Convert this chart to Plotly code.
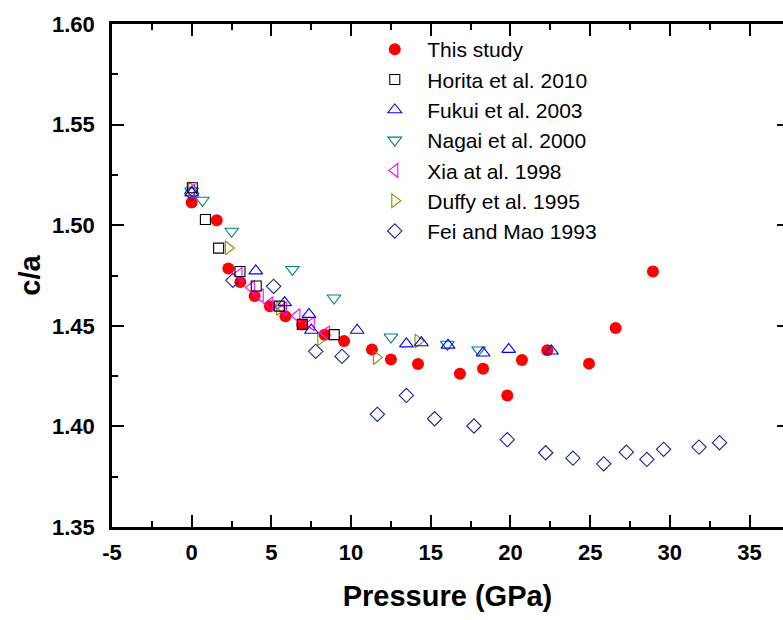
import plotly.graph_objects as go

# ---- data ----
this_x = [0, 1.57, 2.3, 3.05, 3.95, 4.91, 5.88, 6.94, 8.34, 9.56, 11.31, 12.5, 14.2, 16.83, 18.28, 19.8, 20.72, 22.31, 24.93, 26.6, 28.94]
this_y = [1.5113, 1.5025, 1.4785, 1.4718, 1.4648, 1.4597, 1.4547, 1.4507, 1.4456, 1.4424, 1.4382, 1.4333, 1.4310, 1.4262, 1.4287, 1.4154, 1.4330, 1.4378, 1.4312, 1.4489, 1.4770]

horita_x = [0.04, 0.86, 1.69, 3.03, 4.05, 5.5, 6.94, 8.94]
horita_y = [1.5186, 1.5028, 1.4886, 1.4770, 1.4698, 1.4598, 1.4507, 1.4456]

fukui_x = [0, 4.02, 5.83, 7.36, 7.51, 10.38, 13.47, 14.41, 16.08, 18.28, 19.89, 22.57]
fukui_y = [1.5160, 1.4773, 1.4615, 1.4557, 1.4478, 1.4478, 1.4410, 1.4416, 1.4404, 1.4365, 1.4383, 1.4375]

nagai_x = [0, 0.67, 2.51, 6.32, 8.93, 12.5, 16.04, 18.0]
nagai_y = [1.5170, 1.5124, 1.4970, 1.4780, 1.4638, 1.4444, 1.4408, 1.4380]

xia_x = [0, 2.97, 3.74, 4.3, 4.9, 5.75, 6.6, 7.5, 8.45]
xia_y = [1.5170, 1.4756, 1.4690, 1.4650, 1.4610, 1.4585, 1.4550, 1.4510, 1.4465]

duffy_x = [0, 2.3, 5.52, 8.1, 11.59, 14.2]
duffy_y = [1.5180, 1.4887, 1.4586, 1.4436, 1.4342, 1.4424]

fei_x = [0, 2.59, 5.14, 7.78, 9.43, 11.65, 13.47, 15.24, 17.71, 19.8, 22.21, 23.92, 25.85, 27.27, 28.56, 29.61, 31.83, 33.12]
fei_y = [1.5158, 1.4726, 1.4696, 1.4373, 1.4348, 1.4060, 1.4154, 1.4038, 1.4002, 1.3934, 1.3869, 1.3842, 1.3814, 1.3872, 1.3836, 1.3886, 1.3897, 1.3919]

x_tickvals = [-5, 0, 5, 10, 15, 20, 25, 30, 35]
x_ticktext = ["-5", "0", "5", "10", "15", "20", "25", "30", "35"]
y_tickvals = [1.35, 1.40, 1.45, 1.50, 1.55, 1.60]
y_ticktext = ["1.35", "1.40", "1.45", "1.50", "1.55", "1.60"]

x_range = [-5, 37.1]
y_range = [1.35, 1.60]

FONT = "Liberation Sans, Arial, sans-serif"

fig = go.Figure()

def add(name, xs, ys, symbol, color, size=12, rank=0):
    fig.add_trace(go.Scatter(
        x=xs, y=ys, mode="markers", name=name, legendrank=rank,
        marker=dict(symbol=symbol, size=size, color=color,
                    line=dict(color=color, width=1.1 if "open" in symbol else 0)),
    ))

# red circles drawn first (underneath open markers)
add("This study", this_x, this_y, "circle", "#ff0000", size=12, rank=1)
add("Fei and Mao 1993", fei_x, fei_y, "diamond-open", "#1f1f8f", size=11, rank=7)
add("Duffy et al. 1995", duffy_x, duffy_y, "triangle-right-open", "#8a8a00", size=12, rank=6)
add("Xia at al. 1998", xia_x, xia_y, "triangle-left-open", "#ff00ff", size=12, rank=5)
add("Nagai et al. 2000", nagai_x, nagai_y, "triangle-down-open", "#008080", size=12, rank=4)
add("Fukui et al. 2003", fukui_x, fukui_y, "triangle-up-open", "#0000ff", size=12, rank=3)
add("Horita et al. 2010", horita_x, horita_y, "square-open", "#000000", size=10, rank=2)

# invisible trace for the right-hand tick axis
fig.add_trace(go.Scatter(x=[x_range[0]], y=[y_range[0]], yaxis="y2", mode="markers",
                         marker=dict(opacity=0), showlegend=False, hoverinfo="skip"))

tickfont = dict(family=FONT, size=22, color="black", weight="bold")

fig.update_layout(
    width=783, height=620,
    margin=dict(l=112, r=0, t=24, b=93),
    paper_bgcolor="white", plot_bgcolor="white",
    showlegend=True,
    legend=dict(x=0.373, y=0.99, xanchor="left", yanchor="top",
                font=dict(family=FONT, size=21, color="black"),
                bgcolor="rgba(0,0,0,0)", itemwidth=55, tracegroupgap=0),
    xaxis=dict(range=x_range, tickvals=x_tickvals, ticktext=x_ticktext,
               showgrid=False, zeroline=False,
               showline=True, linecolor="black", linewidth=2.5, mirror="ticks",
               ticks="inside", ticklen=12, tickwidth=2, tickcolor="black",
               minor=dict(dtick=2.5, tick0=0, ticks="inside", ticklen=6, tickwidth=2, tickcolor="black"),
               tickfont=tickfont, ticklabelstandoff=4,
               title=dict(text="Pressure (GPa)",
                          font=dict(family=FONT, size=29, color="black", weight="bold"),
                          standoff=22)),
    yaxis=dict(range=y_range, tickvals=y_tickvals, ticktext=y_ticktext,
               showgrid=False, zeroline=False,
               showline=True, linecolor="black", linewidth=2.5,
               ticks="inside", ticklen=12, tickwidth=2, tickcolor="black",
               minor=dict(dtick=0.025, tick0=1.35, ticks="inside", ticklen=6, tickwidth=2, tickcolor="black"),
               tickfont=tickfont, ticklabelstandoff=10,
               title=dict(text="c/a",
                          font=dict(family=FONT, size=29, color="black", weight="bold"),
                          standoff=3)),
    yaxis2=dict(range=y_range, overlaying="y", side="right", tickvals=y_tickvals,
                showgrid=False, zeroline=False, showline=False, showticklabels=False,
                ticks="inside", ticklen=6, tickwidth=2, tickcolor="black"),
)

fig.write_html("out.html")
